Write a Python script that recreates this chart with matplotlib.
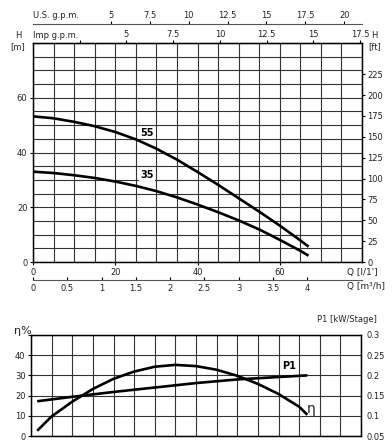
import numpy as np
import matplotlib
matplotlib.use("Agg")
import matplotlib.pyplot as plt

# --- Data -----------------------------------------------------------------

Q_HEAD = [0, 5, 10, 15, 20, 25, 30, 35, 40, 45, 50, 55, 60, 65, 67]
H_55 = [53.2, 52.5, 51.2, 49.6, 47.5, 44.8, 41.4, 37.4, 32.9, 28.2, 23.3, 18.4, 13.3, 7.9, 5.6]
H_35 = [33.0, 32.5, 31.7, 30.7, 29.4, 27.8, 25.9, 23.6, 21.0, 18.2, 15.2, 11.9, 8.1, 4.1, 2.3]

Q_ETA = [1.5, 5, 10, 15, 20, 25, 30, 35, 40, 45, 50, 55, 60, 65, 67]
ETA = [2.6, 9.7, 17, 23.3, 28.3, 31.9, 34.3, 35.2, 34.6, 32.8, 29.8, 25.8, 20.8, 14.5, 10.5]

Q_P1 = [1.5, 10, 20, 30, 40, 50, 60, 67]
P1 = [0.136, 0.147, 0.159, 0.170, 0.181, 0.190, 0.196, 0.200]

US_TICKS = [5, 7.5, 10, 12.5, 15, 17.5, 20]
IMP_TICKS = [2.5, 5, 7.5, 10, 12.5, 15, 17.5]
M3H_TICKS = [0, 0.5, 1, 1.5, 2, 2.5, 3, 3.5, 4]
FT_TICKS = list(range(0, 226, 25))

# --- Helpers --------------------------------------------------------------

W, H = 392, 446
FS = 6
TXT = "#222222"
GRID = "#333333"

plt.rcParams["font.family"] = ["DejaVu Sans"]


def fr(x0, y0, x1, y1):
    """pixel box (top-left origin) -> figure fraction rect"""
    return [x0 / W, 1 - y1 / H, (x1 - x0) / W, (y1 - y0) / H]


def ptxt(x, y, s, **kw):
    kw.setdefault("fontsize", FS)
    kw.setdefault("color", TXT)
    fig.text(x / W, 1 - y / H, s, **kw)


def fmt(v):
    return f"{v:g}"


fig = plt.figure(figsize=(W / 100, H / 100), dpi=100)

# --- Head chart -----------------------------------------------------------

ax = fig.add_axes(fr(33, 43, 362, 262))
ax.set_xlim(0, 80)
ax.set_ylim(0, 80)
ax.set_xticks(np.arange(0, 81, 5), minor=True)
ax.set_yticks(np.arange(0, 81, 5), minor=True)
ax.set_xticks([0, 20, 40, 60])
ax.set_yticks([0, 20, 40, 60])
ax.grid(which="both", color=GRID, lw=0.8)
ax.tick_params(which="minor", length=0)
ax.tick_params(which="major", length=2, width=0.8, labelsize=FS, labelcolor=TXT, pad=2)
for s in ax.spines.values():
    s.set_linewidth(1.0)

ax.plot(Q_HEAD, H_55, color="black", lw=1.9, solid_capstyle="butt")
ax.plot(Q_HEAD, H_35, color="black", lw=1.9, solid_capstyle="butt")
ax.text(27.8, 47.3, "55", fontsize=7, fontweight="bold", ha="center", va="center",
        bbox=dict(facecolor="white", edgecolor="none", pad=0.6))
ax.text(27.7, 31.6, "35", fontsize=7, fontweight="bold", ha="center", va="center",
        bbox=dict(facecolor="white", edgecolor="none", pad=0.6))

# right axis in feet
axr = ax.twinx()
axr.set_ylim(0, 80 / 0.3048)
axr.set_yticks(FT_TICKS)
axr.set_yticklabels([str(t) for t in FT_TICKS])
axr.tick_params(length=2, width=0.8, labelsize=FS, labelcolor=TXT, pad=2)

# Imp g.p.m. on top spine
imp = ax.secondary_xaxis("top", functions=(lambda q: q / 4.546, lambda g: g * 4.546))
imp.set_xticks(IMP_TICKS)
imp.set_xticklabels([""] + [fmt(t) for t in IMP_TICKS[1:]])
imp.tick_params(length=2, width=0.8, labelsize=FS, labelcolor=TXT, pad=1)

# U.S. g.p.m. line above
us = fig.add_axes(fr(33, 24, 362, 24))
us.set_xlim(0, 80 / 3.785)
for k in ("left", "right", "top"):
    us.spines[k].set_visible(False)
us.spines["bottom"].set_color("#555555")
us.set_yticks([])
us.xaxis.set_ticks_position("top")
us.set_xticks(US_TICKS)
us.set_xticklabels([fmt(t) for t in US_TICKS])
us.tick_params(length=2, width=0.8, labelsize=FS, labelcolor=TXT, pad=1, direction="out")

# m3/h line below
m3 = fig.add_axes(fr(33, 280, 362, 280))
m3.set_xlim(0, 80 * 0.06)
for k in ("left", "right", "top"):
    m3.spines[k].set_visible(False)
m3.spines["bottom"].set_color("#555555")
m3.set_yticks([])
m3.set_xticks(M3H_TICKS)
m3.set_xticklabels([fmt(t) for t in M3H_TICKS])
m3.tick_params(length=2, width=0.8, labelsize=FS, labelcolor=TXT, pad=3, direction="in")

ptxt(33, 16, "U.S. g.p.m.", ha="left", va="center")
ptxt(33, 35, "Imp g.p.m.", ha="left", va="center")
ptxt(18, 35, "H", ha="center", va="center")
ptxt(18, 47, "[m]", ha="center", va="center")
ptxt(374, 35, "H", ha="center", va="center")
ptxt(375, 47, "[ft]", ha="center", va="center")
ptxt(347, 272, "Q [l/1']", ha="left", va="center", fontsize=6.5)
ptxt(347, 287, "Q [m\u00b3/h]", ha="left", va="center", fontsize=6.5)

# --- Efficiency / power chart ---------------------------------------------

bx = fig.add_axes(fr(31, 335, 361, 436))
bx.set_xlim(0, 80)
bx.set_ylim(0, 50)
bx.set_xticks(np.arange(0, 81, 5))
bx.set_yticks([0, 10, 20, 30, 40, 50])
bx.set_yticklabels(["0", "10", "20", "30", "40", ""])
bx.set_xticklabels([])
bx.grid(color=GRID, lw=0.8)
bx.tick_params(axis="x", length=0)
bx.tick_params(axis="y", length=2, width=0.8, labelsize=FS, labelcolor=TXT, pad=2)
for s in bx.spines.values():
    s.set_linewidth(1.0)

bx.plot(Q_ETA, ETA, color="black", lw=1.9, solid_capstyle="butt")

bxr = bx.twinx()
bxr.set_ylim(0.05, 0.3)
bxr.set_yticks([0.05, 0.1, 0.15, 0.2, 0.25, 0.3])
bxr.set_yticklabels(["0.05", "0.1", "0.15", "0.2", "0.25", "0.3"])
bxr.tick_params(length=0, labelsize=FS, labelcolor=TXT, pad=4)
bxr.plot(Q_P1, P1, color="black", lw=1.9, solid_capstyle="butt")

bx.text(62.6, 34.6, "P1", fontsize=7, fontweight="bold", ha="center", va="center",
        bbox=dict(facecolor="white", edgecolor="none", pad=0.6), zorder=5)
bx.text(67.8, 13.5, "\u03b7", fontsize=10, ha="center", va="center", color=TXT)

ptxt(23, 331, "\u03b7%", ha="center", va="center", fontsize=8)
ptxt(377, 320, "P1 [kW/Stage]", ha="right", va="center", fontsize=6)

fig.savefig("out.png", dpi=100)
